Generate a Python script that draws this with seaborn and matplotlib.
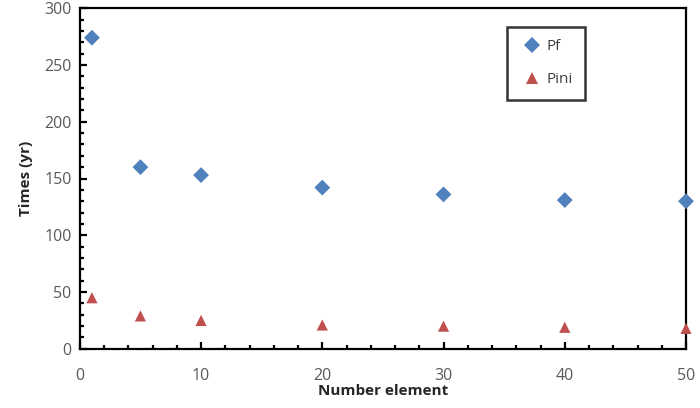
import pandas as pd
import matplotlib
matplotlib.use("Agg")
import matplotlib.pyplot as plt
import seaborn as sns
from matplotlib.ticker import MultipleLocator

# data
elements = [1, 5, 10, 20, 30, 40, 50]
pf_times = [274, 160, 153, 142, 136, 131, 130]
pini_times = [45, 29, 25, 21, 20, 19, 18]

df = pd.DataFrame({
    "Number element": elements * 2,
    "Times (yr)": pf_times + pini_times,
    "series": ["Pf"] * len(elements) + ["Pini"] * len(elements),
})

sns.set_style("white")
plt.rcParams['font.family'] = ['Open Sans', 'DejaVu Sans']

fig = plt.figure(figsize=(7, 4.08), dpi=100)
ax = fig.add_axes([0.114, 0.145, 0.866, 0.835])

sns.scatterplot(data=df, x="Number element", y="Times (yr)", hue="series", style="series",
                markers={"Pf": "D", "Pini": "^"},
                palette={"Pf": "#4F81BD", "Pini": "#C0504D"},
                s=65, linewidth=0, ax=ax, clip_on=False, zorder=3)

ax.set_xlim(0, 50)
ax.set_ylim(0, 300)
ax.set_xticks([0, 10, 20, 30, 40, 50])
ax.set_yticks(range(0, 301, 50))
ax.xaxis.set_minor_locator(MultipleLocator(2))
ax.yaxis.set_minor_locator(MultipleLocator(10))
ax.tick_params(which="major", direction="in", length=5, width=1.6, colors="black",
               labelcolor="#595959", labelsize=11.5, pad=6)
ax.tick_params(which="minor", direction="in", length=3, width=1.6, colors="black")
ax.tick_params(axis="x", which="both", bottom=True)
ax.tick_params(axis="y", which="both", left=True)
ax.tick_params(axis="x", which="major", pad=14)
for sp in ax.spines.values():
    sp.set_color("black")
    sp.set_linewidth(1.6)

ax.set_xlabel("Number element", fontsize=11, fontweight="bold", color="#262626", labelpad=0)
ax.set_ylabel("Times (yr)", fontsize=11, fontweight="bold", color="#262626", labelpad=8)

leg = ax.legend(loc="upper left", bbox_to_anchor=(0.705, 0.945), frameon=True, fancybox=False,
                fontsize=11, handletextpad=0.2, borderpad=0.8, labelspacing=1.2,
                handlelength=1.6, borderaxespad=0)
leg.get_frame().set_edgecolor("black")
leg.get_frame().set_linewidth(1.8)
for t in leg.get_texts():
    t.set_color("#404040")

fig.savefig("out.png", dpi=100)
